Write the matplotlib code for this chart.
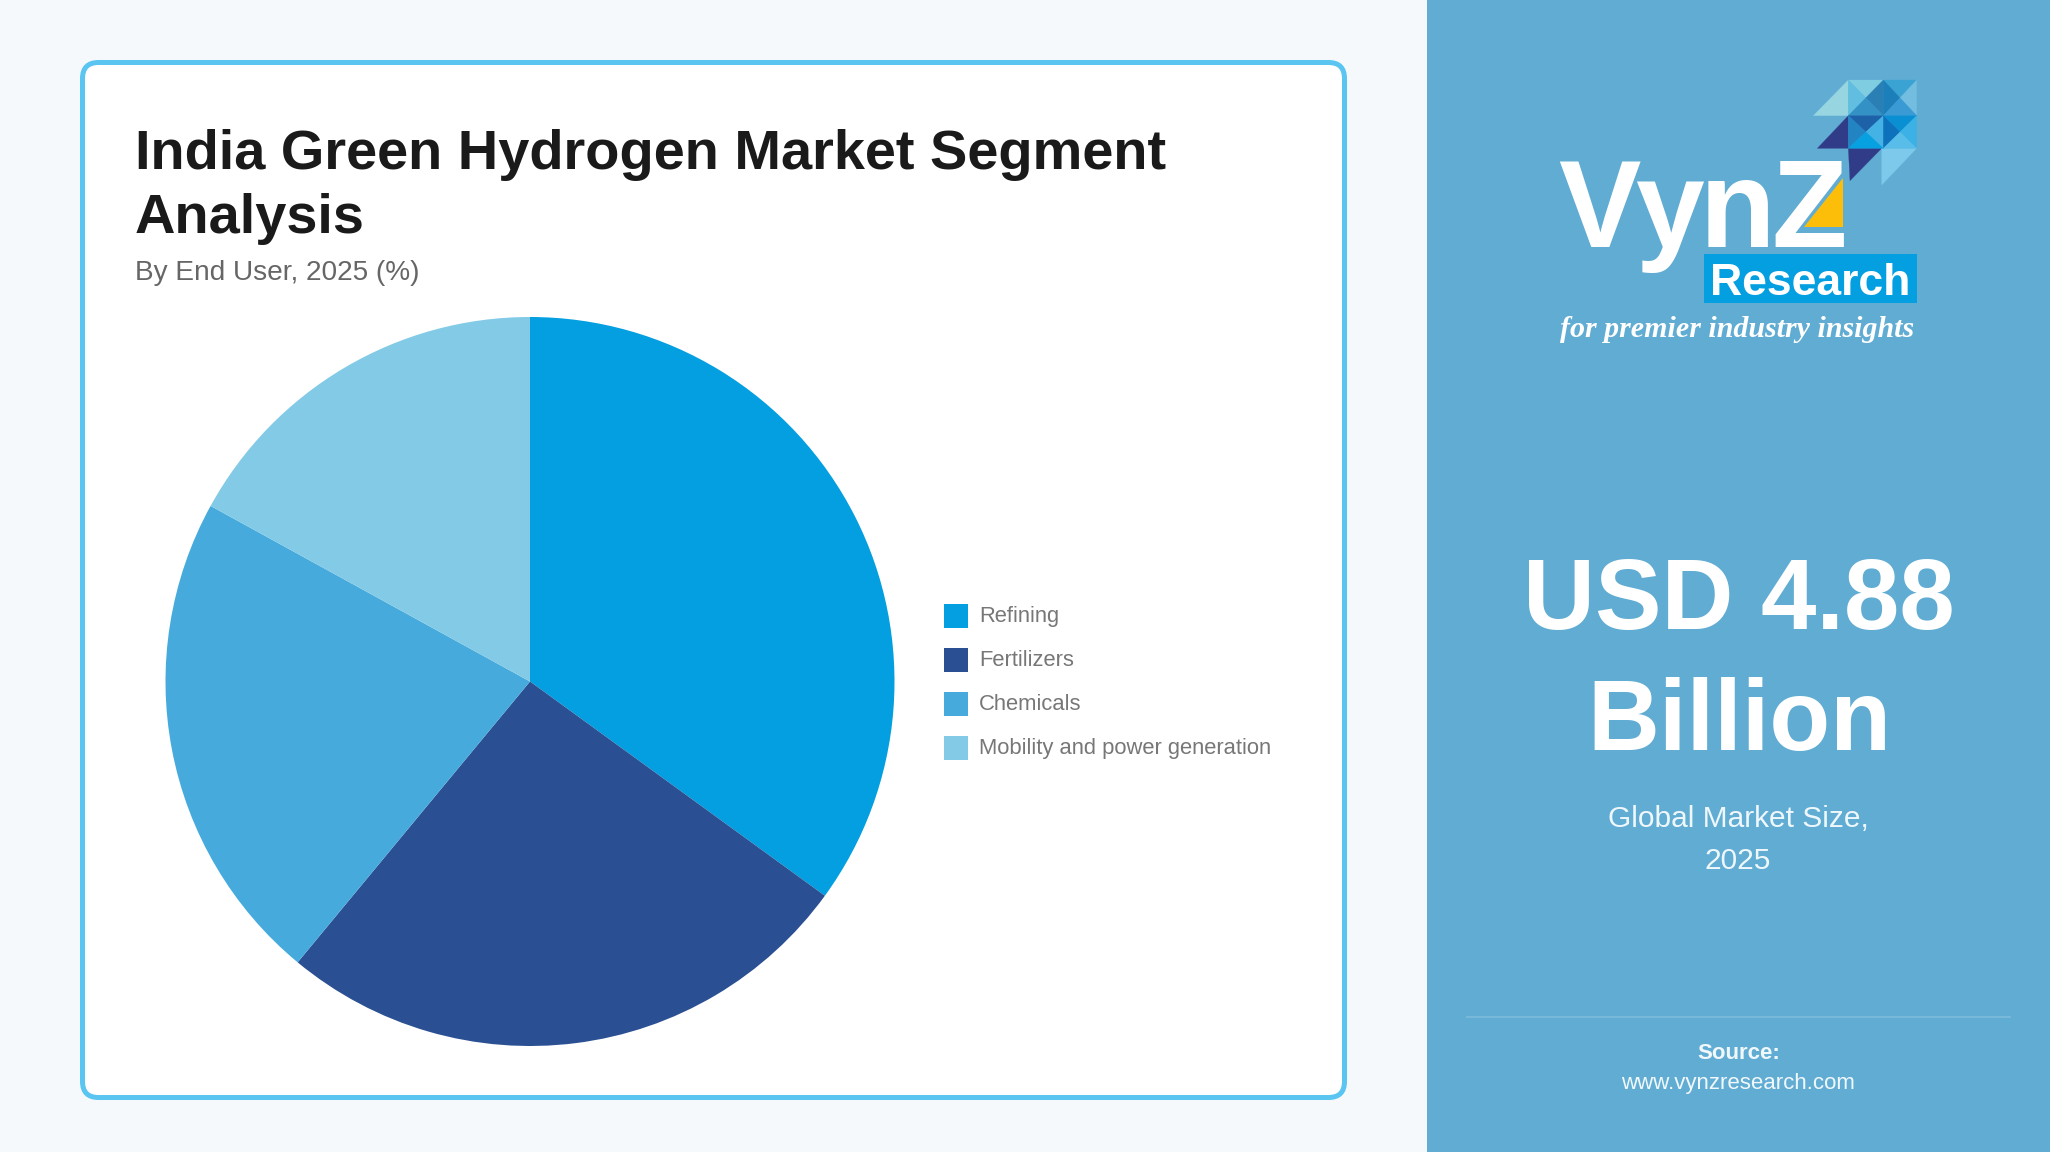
"""
India Green Hydrogen market segment card, with the VynZ side panel
"""

import matplotlib
matplotlib.use('Agg')
import matplotlib.pyplot as plt
import matplotlib.patches as mpatches

plt.rcParams['font.family'] = ['Liberation Sans', 'DejaVu Sans']

# Chart data
categories = ['Refining', 'Fertilizers', 'Chemicals', 'Mobility and power generation']
shares = [35, 26, 22, 17]
slice_colors = ['#039fe0', '#2a4f92', '#46abdc', '#82cae6']

title_lines = ['India Green Hydrogen Market Segment', 'Analysis']
subtitle = 'By End User, 2025 (%)'
market_size_lines = ['USD 4.88', 'Billion']
market_label_lines = ['Global Market Size,', '2025']
source_label = 'Source:'
source_url = 'www.vynzresearch.com'

W, H = 2050, 1152
PANEL = '#60acd3'


def logo_xy(zx, zy):
    return (1500 + zx / 3, 50 + zy / 3)


def cell(x0, x1, y0, y1, top, left, right, bottom):
    """One square of the logo arrow, split along both diagonals"""
    mid = ((x0 + x1) / 2, (y0 + y1) / 2)
    return [
        ([(x0, y0), (x1, y0), mid], top),
        ([(x0, y0), (x0, y1), mid], left),
        ([(x1, y0), (x1, y1), mid], right),
        ([(x0, y1), (x1, y1), mid], bottom),
    ]


# triangles of the logo arrow: (points in crop coords, colour)
logo_triangles = [
    ([(940, 197), (1045, 90), (1045, 197)], '#97d5e0'),
    ([(952, 295), (1045, 197), (1045, 295)], '#313c88'),
    ([(1045, 295), (1145, 295), (1050, 392)], '#313c88'),
    ([(1145, 295), (1250, 295), (1145, 405)], '#7cc9ec'),
]
logo_triangles += cell(1045, 1150, 90, 197, '#7fcde0', '#62bee0', '#2a80b5', '#3391c6')
logo_triangles += cell(1150, 1250, 90, 197, '#3ba3d4', '#1c7fba', '#72bde0', '#3a9bd4')
logo_triangles += cell(1045, 1150, 197, 295, '#1d62a8', '#2384c4', '#45b2e5', '#07a0e0')
logo_triangles += cell(1150, 1250, 197, 295, '#0b8fd3', '#0d72bb', '#3bb1e6', '#58bde9')

# letters of the logo are set tighter than the font's own spacing
logo_letters = ['V', 'y', 'n', 'Z']
logo_letter_x = [1558, 1635, 1700, 1771]


fig = plt.figure(figsize=(W / 100, H / 100), dpi=100, facecolor='#f5f9fc')

# Full figure layer in pixel coords for everything that is not the pie
bg = fig.add_axes([0, 0, 1, 1])
bg.set_xlim(0, W)
bg.set_ylim(H, 0)
bg.axis('off')

card = mpatches.FancyBboxPatch((82.5, 62.5), 1262, 1035,
                               boxstyle='round,pad=0,rounding_size=16',
                               facecolor='white', edgecolor='#5bc5f2', linewidth=3.6)
bg.add_patch(card)
bg.add_patch(mpatches.Rectangle((1427, 0), W - 1427, H, facecolor=PANEL, edgecolor='none'))

# Card headings
for line, y in zip(title_lines, [169, 233]):
    bg.text(135, y, line, fontsize=40.3, fontweight='bold', color='#1a1a1a', va='baseline')
bg.text(135, 280, subtitle, fontsize=20.2, color='#666666', va='baseline')

# Pie
pie_ax = fig.add_axes([(530 - 364.5) / W, (H - 681.5 - 364.5) / H, 729 / W, 729 / H])
pie_ax.pie(shares, colors=slice_colors, startangle=90, counterclock=False, radius=1.0)
pie_ax.set_xlim(-1, 1)
pie_ax.set_ylim(-1, 1)

# Legend
for i, (name, color) in enumerate(zip(categories, slice_colors)):
    top = 604 + i * 44
    bg.add_patch(mpatches.Rectangle((944, top), 24, 24, facecolor=color, edgecolor='none'))
    bg.text(979, top + 18, name, fontsize=15.8, color='#777777', va='baseline')

# Side panel text
for line, y in zip(market_size_lines, [629, 750]):
    bg.text(1739, y, line, fontsize=71.7, fontweight='bold', color='white', ha='center', va='baseline')
for line, y in zip(market_label_lines, [827, 869]):
    bg.text(1738, y, line, fontsize=21.5, color='#eef7fb', ha='center', va='baseline')

bg.plot([1467, 2010], [1017, 1017], color='#7dbcdc', linewidth=1.2)
bg.text(1739, 1059, source_label, fontsize=16, fontweight='bold', color='#f1f8fc',
        ha='center', va='baseline')
bg.text(1738, 1089, source_url, fontsize=16, color='#f1f8fc', ha='center', va='baseline')

# Logo
for points, color in logo_triangles:
    bg.add_patch(mpatches.Polygon([logo_xy(*p) for p in points], closed=True,
                                  facecolor=color, edgecolor=color, linewidth=0.2))
for letter, x in zip(logo_letters, logo_letter_x):
    bg.text(x, 247, letter, fontsize=89, fontweight='bold', color='white', va='baseline')
bg.add_patch(mpatches.Polygon([logo_xy(1030, 385), logo_xy(1030, 530), logo_xy(912, 530)],
                              closed=True, facecolor='#fdbe0a', edgecolor='none', zorder=5))
bg.add_patch(mpatches.Rectangle((1704, 254), 213, 49, facecolor='#039fe0', edgecolor='none', zorder=5))
bg.text(1710, 295, 'Research', fontsize=32, fontweight='bold', color='white', va='baseline', zorder=6)
bg.text(1560, 337, 'for premier industry insights', fontsize=21.6,
        family=['Liberation Serif', 'DejaVu Serif'], fontstyle='italic', fontweight='bold',
        color='white', va='baseline')

fig.savefig('out.png', dpi=100, facecolor=fig.get_facecolor())
